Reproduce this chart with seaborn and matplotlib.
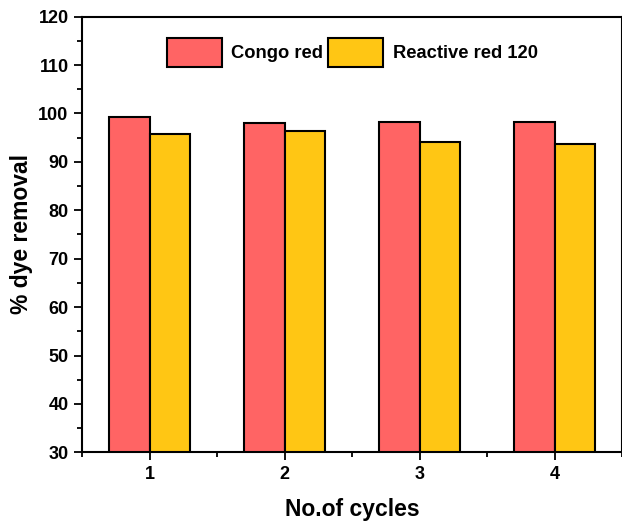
import matplotlib
matplotlib.use("Agg")
import matplotlib.pyplot as plt
import seaborn as sns
import pandas as pd
from matplotlib.ticker import MultipleLocator, FixedLocator

cycles = ["1", "2", "3", "4"]
congo_red = [99.3, 98.0, 98.3, 98.2]
reactive_red = [95.7, 96.3, 94.2, 93.6]
series_names = ["Congo red", "Reactive red 120"]
colors = ["#FF6464", "#FFC614"]

df = pd.DataFrame({
    "cycle": cycles * 2,
    "value": congo_red + reactive_red,
    "series": [series_names[0]] * 4 + [series_names[1]] * 4,
})

sns.set_style("ticks")
plt.rcParams["font.family"] = ["Liberation Sans", "DejaVu Sans"]
plt.rcParams["font.weight"] = "bold"
plt.rcParams["text.color"] = "black"
plt.rcParams["axes.labelcolor"] = "black"
plt.rcParams["xtick.color"] = "black"
plt.rcParams["ytick.color"] = "black"
plt.rcParams["axes.edgecolor"] = "black"

fig = plt.figure(figsize=(6.22, 5.26), dpi=100)
ax = fig.add_axes([82.4 / 622, 1 - 452.3 / 526, 1 - 82.4 / 622, (452.3 - 16.7) / 526])

sns.barplot(data=df, x="cycle", y="value", hue="series", order=cycles,
            hue_order=series_names, palette=colors, width=0.6,
            edgecolor="black", linewidth=1.5, saturation=1, ax=ax)

ax.set_ylim(30, 120)
ax.set_xlim(-0.5, 3.5)
ax.yaxis.set_major_locator(MultipleLocator(10))
ax.yaxis.set_minor_locator(MultipleLocator(5))
ax.xaxis.set_minor_locator(FixedLocator([-0.5, 0.5, 1.5, 2.5, 3.5]))
ax.tick_params(axis="both", which="major", direction="out", length=6, width=1.3,
               labelsize=13, pad=4, colors="black")
ax.tick_params(axis="both", which="minor", direction="out", length=3.3, width=1.3,
               colors="black")
for lbl in ax.get_xticklabels() + ax.get_yticklabels():
    lbl.set_fontweight("bold")

for s in ["left", "bottom", "top", "right"]:
    ax.spines[s].set_visible(True)
    ax.spines[s].set_linewidth(1.5)
    ax.spines[s].set_color("black")

ax.set_xlabel("No.of cycles", fontsize=16.5, fontweight="bold", labelpad=11,
              color="black")
ax.set_ylabel("% dye removal", fontsize=16.5, fontweight="bold", labelpad=3.5,
              color="black")

leg = ax.legend(loc="upper center", bbox_to_anchor=(0.50, 0.988), ncol=2,
                frameon=False, handlelength=3.0, handleheight=2.0,
                columnspacing=0.3, handletextpad=0.5,
                prop={"weight": "bold", "size": 13.2})
for h in leg.legend_handles:
    h.set_edgecolor("black")
    h.set_linewidth(1.5)
for t in leg.get_texts():
    t.set_color("black")

fig.savefig("out.png", dpi=100)
